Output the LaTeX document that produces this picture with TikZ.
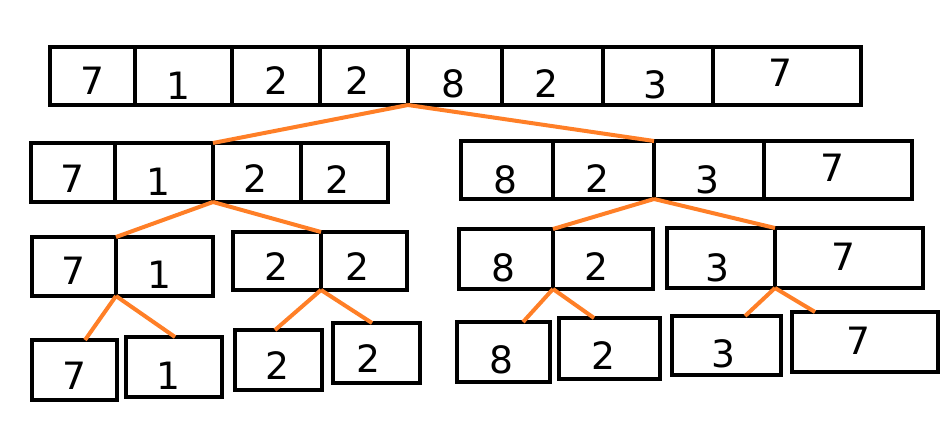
\documentclass[tikz,border=0pt]{standalone}
\usepackage{fontspec}
\setmainfont{DejaVu Sans}
\usetikzlibrary{positioning}
\definecolor{paintorange}{HTML}{FF7F27}
\tikzset{
  cell/.style={draw=black, line width=0.04cm, inner sep=0pt, outer sep=0pt},
  digit/.style={inner sep=0pt, font=\fontsize{10.7}{13}\selectfont},
  split/.style={draw=paintorange, line width=0.04cm}
}
\begin{document}
\begin{tikzpicture}[x=0.01cm,y=-0.01cm]
  \useasboundingbox (0,0) rectangle (940,440);

  % whole array
  \foreach \l/\r/\x/\y/\n [count=\i] in {50/135/92/81/7, 135/232/178/86/1, 232/320/276/81/2, 320/408/357/81/2,
      408/502/453/84/8, 502/603/546/84/2, 603/713/655/85/3, 713/861/780/73/7} {
    \node[cell, minimum width={(\r-\l)*0.01cm}, minimum height=0.58cm] (a\i) at ({(\l+\r)/2},76) {};
    \node[digit] at (\x,\y) {\n};
  }

  % halves
  \foreach \l/\r/\t/\b/\x/\y/\n [count=\i] in {31/115/143/202/72/179/7, 115/213/143/202/158/182/1,
      213/301/143/202/255/179/2, 301/388/143/202/337/180/2,
      461/553/141/199/505/180/8, 553/654/141/199/597/179/2,
      654/764/141/199/707/180/3, 764/912/141/199/832/168/7} {
    \node[cell, minimum width={(\r-\l)*0.01cm}, minimum height={(\b-\t)*0.01cm}] (b\i) at ({(\l+\r)/2},{(\t+\b)/2}) {};
    \node[digit] at (\x,\y) {\n};
  }

  % quarters
  \foreach \l/\r/\t/\b/\x/\y/\n [count=\i] in {32/116/237/296/73/271/7, 116/213/237/296/159/275/1,
      233/321/232/290/276/267/2, 321/407/232/290/357/267/2,
      459/553/229/289/503/268/8, 553/653/229/289/596/267/2,
      667/775/228/288/717/268/3, 775/923/228/288/843/257/7} {
    \node[cell, minimum width={(\r-\l)*0.01cm}, minimum height={(\b-\t)*0.01cm}] (c\i) at ({(\l+\r)/2},{(\t+\b)/2}) {};
    \node[digit] at (\x,\y) {\n};
  }

  % single elements
  \foreach \l/\r/\t/\b/\x/\y/\n [count=\i] in {32/117/340/400/74/376/7, 126/222/337/397/168/376/1,
      235/322/330/390/277/366/2, 333/420/323/383/368/359/2,
      457/550/322/382/501/360/8, 559/660/318/379/603/356/2,
      672/781/316/375/723/354/3, 792/938/312/372/858/341/7} {
    \node[cell, minimum width={(\r-\l)*0.01cm}, minimum height={(\b-\t)*0.01cm}] (d\i) at ({(\l+\r)/2},{(\t+\b)/2}) {};
    \node[digit] at (\x,\y) {\n};
  }

  % splits
  \foreach \p/\c in {a4/b2, a4/b6, b2/c1, b2/c3, b6/c5, b6/c7}
    \draw[split] (\p.south east) -- (\c.north east);
  \foreach \p/\c/\s in {c1/d1/0.53, c1/d2/0.49, c3/d3/0.40, c3/d4/0.39,
      c5/d5/0.66, c5/d6/0.35, c7/d7/0.73, c7/d8/0.23}
    \draw[split] (\p.south east) -- ([xshift=\s cm]\c.north west);
\end{tikzpicture}
\end{document}
